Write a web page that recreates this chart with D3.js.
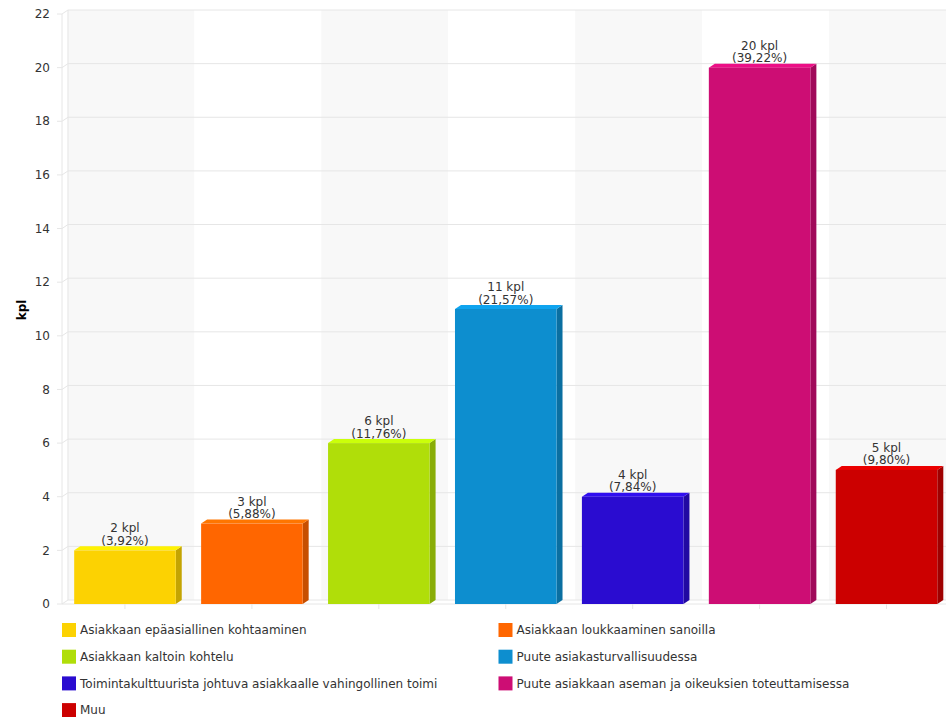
<!DOCTYPE html>
<meta charset="utf-8">
<style>
    body { margin: 0; background: #fff; }
    text { font-family: "DejaVu Sans", Verdana, sans-serif; fill: #333; }
</style>
<script src="https://cdn.jsdelivr.net/npm/d3@7"></script>
<body>
<div id="chart"></div>
<script>
    // categories, values and colors
    var categories = [
        "Asiakkaan epäasiallinen kohtaaminen",
        "Asiakkaan loukkaaminen sanoilla",
        "Asiakkaan kaltoin kohtelu",
        "Puute asiakasturvallisuudessa",
        "Toimintakulttuurista johtuva asiakkaalle vahingollinen toimi",
        "Puute asiakkaan aseman ja oikeuksien toteuttamisessa",
        "Muu"
    ];
    var values = [2, 3, 6, 11, 4, 20, 5];
    var percents = ["3,92%", "5,88%", "11,76%", "21,57%", "7,84%", "39,22%", "9,80%"];
    var colors = ["#FCD202", "#FF6600", "#B0DE09", "#0D8ECF", "#2A0CD0", "#CD0D74", "#CC0000"];
    var yTicks = [0, 2, 4, 6, 8, 10, 12, 14, 16, 18, 20, 22];

    var width = 946, height = 717;
    // 3D depth offset
    var dx = 6, dy = -4;

    var svg = d3.select("#chart").append("svg")
        .attr("width", width)
        .attr("height", height);

    var x = d3.scaleBand()
        .domain(categories)
        .range([61.5, 950])
        .paddingInner(0.2)
        .paddingOuter(0.1);

    var y = d3.scaleLinear()
        .domain([0, 22])
        .range([604, 14]);

    var step = x.step();
    var x0 = x.range()[0];

    // alternating back wall bands
    svg.append("g")
        .selectAll("rect")
        .data(categories)
        .enter()
        .append("rect")
        .attr("x", function (d, i) { return x0 + i * step + dx; })
        .attr("y", y(22) + dy)
        .attr("width", step)
        .attr("height", y(0) - y(22))
        .style("fill", function (d, i) { return i % 2 == 0 ? "#f8f8f8" : "#ffffff"; });

    // grid lines (front tick, diagonal, back wall line)
    var grid = svg.append("g").style("stroke", "#e6e6e6").style("fill", "none");
    yTicks.forEach(function (t) {
        grid.append("path")
            .attr("d", "M57," + y(t) + "L62," + y(t) + "L" + (62 + dx) + "," + (y(t) + dy) + "L950," + (y(t) + dy));
    });
    grid.append("line")
        .attr("x1", 62).attr("x2", 62)
        .attr("y1", y(22)).attr("y2", y(0));
    grid.append("line")
        .attr("x1", 62 + dx).attr("x2", 62 + dx)
        .attr("y1", y(22) + dy).attr("y2", y(0) + dy);
    grid.append("line")
        .attr("x1", 62).attr("x2", 950)
        .attr("y1", y(0)).attr("y2", y(0));

    // x ticks
    svg.append("g")
        .selectAll("line")
        .data(categories)
        .enter()
        .append("line")
        .attr("x1", function (d) { return x(d) + x.bandwidth() / 2; })
        .attr("x2", function (d) { return x(d) + x.bandwidth() / 2; })
        .attr("y1", y(0))
        .attr("y2", y(0) + 5)
        .style("stroke", "#e6e6e6");

    // y tick labels
    svg.append("g")
        .selectAll("text")
        .data(yTicks)
        .enter()
        .append("text")
        .attr("x", 50)
        .attr("y", function (d) { return y(d); })
        .attr("dy", "0.35em")
        .attr("text-anchor", "end")
        .style("font-size", "12px")
        .text(function (d) { return d; });

    // y axis title
    svg.append("text")
        .attr("transform", "translate(26,310) rotate(-90)")
        .attr("text-anchor", "middle")
        .style("font-size", "12px")
        .style("font-weight", "bold")
        .style("fill", "#000")
        .text("kpl");

    // bars
    var bars = svg.append("g")
        .selectAll("g")
        .data(values)
        .enter()
        .append("g");

    bars.append("path")
        .attr("d", function (d, i) {
            var xr = x(categories[i]) + x.bandwidth();
            return "M" + xr + "," + y(d) + "L" + (xr + dx) + "," + (y(d) + dy) +
                "L" + (xr + dx) + "," + (y(0) + dy) + "L" + xr + "," + y(0) + "Z";
        })
        .style("fill", function (d, i) { return d3.color(colors[i]).darker(0.7); });

    bars.append("path")
        .attr("d", function (d, i) {
            var xl = x(categories[i]), xr = xl + x.bandwidth();
            return "M" + xl + "," + y(d) + "L" + (xl + dx) + "," + (y(d) + dy) +
                "L" + (xr + dx) + "," + (y(d) + dy) + "L" + xr + "," + y(d) + "Z";
        })
        .style("fill", function (d, i) { return d3.color(colors[i]).brighter(0.4); });

    bars.append("rect")
        .attr("x", function (d, i) { return x(categories[i]); })
        .attr("y", function (d) { return y(d); })
        .attr("width", x.bandwidth())
        .attr("height", function (d) { return y(0) - y(d); })
        .style("fill", function (d, i) { return colors[i]; });

    // value labels
    var labels = svg.append("g")
        .selectAll("text")
        .data(values)
        .enter()
        .append("text")
        .attr("text-anchor", "middle")
        .style("font-size", "12px")
        .attr("x", function (d, i) { return x(categories[i]) + x.bandwidth() / 2; });

    labels.append("tspan")
        .attr("x", function (d, i) { return x(categories[i]) + x.bandwidth() / 2; })
        .attr("y", function (d) { return y(d) + dy - 14; })
        .text(function (d) { return d + " kpl"; });
    labels.append("tspan")
        .attr("x", function (d, i) { return x(categories[i]) + x.bandwidth() / 2; })
        .attr("y", function (d) { return y(d) + dy - 1.5; })
        .text(function (d, i) { return "(" + percents[i] + ")"; });

    // legend in two columns
    var legend = svg.append("g")
        .selectAll("g")
        .data(categories)
        .enter()
        .append("g")
        .attr("transform", function (d, i) {
            return "translate(" + (i % 2 == 0 ? 62 : 498.5) + "," + (623 + Math.floor(i / 2) * 26.7) + ")";
        });

    legend.append("rect")
        .attr("width", 14)
        .attr("height", 14)
        .style("fill", function (d, i) { return colors[i]; });

    legend.append("text")
        .attr("x", 18)
        .attr("y", 7)
        .attr("dy", "0.35em")
        .style("font-size", "12px")
        .text(function (d) { return d; });
</script>
</body>
